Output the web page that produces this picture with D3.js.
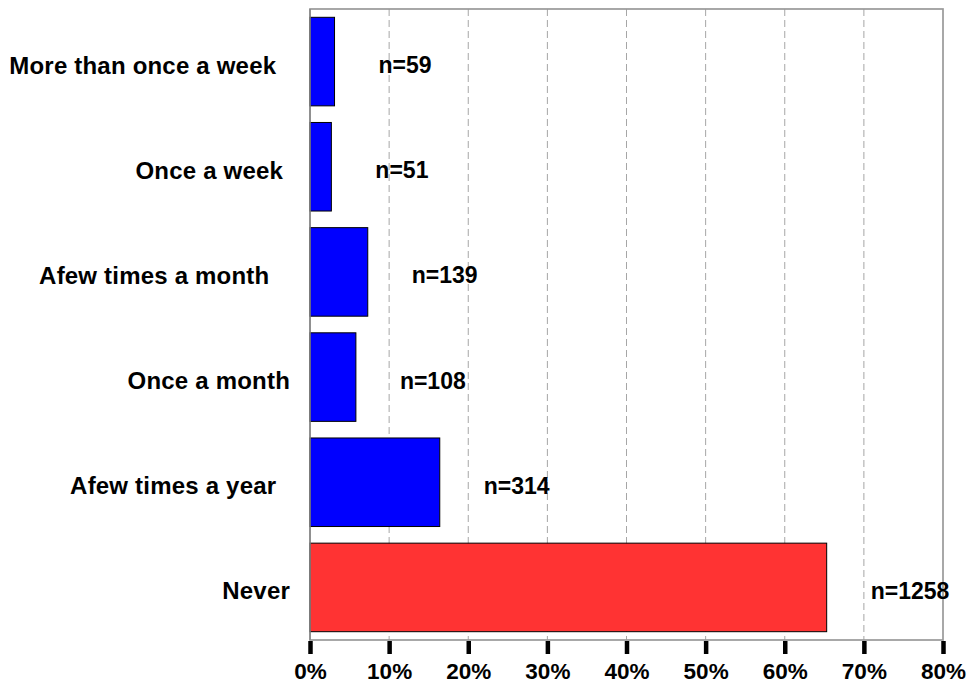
<!DOCTYPE html>
<html>
<head>
<meta charset="utf-8">
<script src="https://cdn.jsdelivr.net/npm/d3@7"></script>
<style>
  html, body { margin: 0; padding: 0; background: #fff; }
  svg { display: block; }
  text { font-family: "Liberation Sans", Arial, sans-serif; font-weight: bold; fill: #000; }
</style>
</head>
<body>
<svg id="chart" width="974" height="687"></svg>
<script>
// ---- data ----
const categories = ["More than once a week  ", "Once a week ", "Afew times a month   ", "Once a month", "Afew times a year  ", "Never"];
const percents = [3.1, 2.7, 7.3, 5.8, 16.4, 65.3];
const counts = [59, 51, 139, 108, 314, 1258];
const barColors = ["#0000ff", "#0000ff", "#0000ff", "#0000ff", "#0000ff", "#ff3333"];
const tickValues = [0, 10, 20, 30, 40, 50, 60, 70, 80];
const tickLabels = ["0%", "10%", "20%", "30%", "40%", "50%", "60%", "70%", "80%"];

const svg = d3.select("#chart");
const plotLeft = 310, plotRight = 943, plotTop = 9, plotBottom = 640;

const x = d3.scaleLinear().domain([0, 80]).range([plotLeft, plotRight]);
const y = d3.scaleBand().domain(categories).range([plotTop, plotBottom]).paddingInner(0.158).paddingOuter(0.079);

// gridlines (dashed)
svg.append("g").selectAll("line").data(tickValues.slice(1, -1)).join("line")
  .attr("x1", d => x(d)).attr("x2", d => x(d))
  .attr("y1", plotTop).attr("y2", plotBottom)
  .attr("stroke", "#a6a6a6").attr("stroke-width", 1)
  .attr("stroke-dasharray", "7,4");

// frame
svg.append("rect")
  .attr("x", plotLeft).attr("y", plotTop)
  .attr("width", plotRight - plotLeft).attr("height", plotBottom - plotTop)
  .attr("fill", "none").attr("stroke", "#999999").attr("stroke-width", 1.7);

// bars
svg.append("g").selectAll("rect").data(categories).join("rect")
  .attr("x", x(0))
  .attr("y", d => y(d))
  .attr("width", (d, i) => x(percents[i]) - x(0))
  .attr("height", y.bandwidth())
  .attr("fill", (d, i) => barColors[i])
  .attr("stroke", "#000").attr("stroke-width", 1);

// left axis line over bars
svg.append("line").attr("x1", plotLeft).attr("x2", plotLeft).attr("y1", plotTop).attr("y2", plotBottom)
  .attr("stroke", "#888").attr("stroke-width", 1.5);

// n labels
svg.append("g").selectAll("text").data(categories).join("text")
  .attr("x", (d, i) => x(percents[i]) + 44)
  .attr("y", d => y(d) + y.bandwidth() / 2 + 11.5)
  .attr("font-size", 23)
  .text((d, i) => "n=" + counts[i]);

// category labels
svg.append("g").selectAll("text").data(categories).join("text")
  .attr("x", plotLeft - 20)
  .attr("y", d => y(d) + y.bandwidth() / 2 + 12)
  .attr("text-anchor", "end")
  .attr("font-size", 24)
  .attr("letter-spacing", 0.2)
  .style("white-space", "pre")
  .text(d => d);

// x axis: thick black ticks + labels
const xAxis = d3.axisBottom(x).tickValues(tickValues).tickFormat((d, i) => tickLabels[i]).tickSize(13).tickPadding(9);
const gx = svg.append("g").attr("transform", `translate(0,${plotBottom + 1})`).call(xAxis);
gx.select(".domain").remove();
gx.selectAll(".tick line").attr("stroke", "#000").attr("stroke-width", 4.5);
gx.selectAll(".tick text")
  .attr("font-size", 22.5)
  .attr("font-family", "Liberation Sans, Arial, sans-serif")
  .attr("font-weight", "bold")
  .attr("fill", "#000");
</script>
</body>
</html>
